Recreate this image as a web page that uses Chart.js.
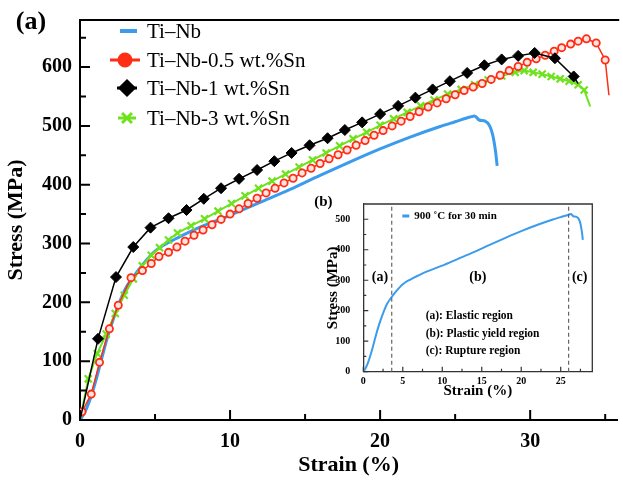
<!DOCTYPE html>
<html><head><meta charset="utf-8">
<script src="https://cdn.jsdelivr.net/npm/chart.js@4.4.1/dist/chart.umd.min.js"></script>
<style>
html,body{margin:0;padding:0;background:#fff;}
#wrap{position:relative;width:623px;height:480px;overflow:hidden;background:#fff;}
#main{position:absolute;left:0;top:0;}
#inset{position:absolute;left:300px;top:185px;}
</style></head><body>
<div id="wrap"><canvas id="main" width="623" height="480"></canvas><canvas id="inset" width="300" height="215"></canvas></div>
<script>
// ---------------- data ----------------
const seriesNames = ['Ti\u2013Nb', 'Ti\u2013Nb-0.5 wt.%Sn', 'Ti\u2013Nb-1 wt.%Sn', 'Ti\u2013Nb-3 wt.%Sn'];

const tiNbStrain = [0,0.3,0.6,1.0,1.4,1.8,2.2,2.6,3.0,3.6,4.2,5.0,6.0,7.0,8.0,9.0,10,12,14,16,18,20,22,24,25,26.0,26.3,26.6,27.0,27.3,27.5,27.7,27.8];
const tiNbStress = [0,12,30,62,100,138,170,198,222,245,265,287,303,316,328,338,348,370,392,416,439,461,481,499,507,515,517,510,508,500,485,455,432];

const sn05Strain = [0.13,0.75,1.3,1.96,2.55,3.4,4.16,4.75,5.26,5.9,6.46,7.0,7.6,8.2,8.8,9.4,10.0,10.6,11.2,11.8,12.4,13.0,13.6,14.2,14.8,15.4,16.0,16.6,17.2,17.8,18.4,19.0,19.6,20.2,20.8,21.4,22.0,22.6,23.2,23.8,24.4,25.0,25.6,26.2,26.8,27.4,28.0,28.6,29.2,29.8,30.4,31.0,31.6,32.1,32.7,33.2,33.75,34.4,35.0,35.25];
const sn05Stress = [14,44,98,155,195,242,254,266,278,285,294,304,314,323,332,341,350,359,368,377,386,394,403,411,420,428,436,444,451,459,467,475,484,492,500,508,516,524,532,539,546,553,560,566,572,579,586,594,601,608,614,620,627,633,639,644,648,641,612,552];

const sn1Strain = [0,1.2,2.4,3.55,4.7,5.9,7.1,8.25,9.4,10.6,11.8,12.95,14.1,15.3,16.5,17.65,18.8,20.0,21.2,22.35,23.5,24.65,25.8,26.95,28.1,29.2,30.3,31.65,32.9,33.2];
const sn1Stress = [0,138,243,294,327,343,357,376,394,410,425,440,454,467,479,493,506,520,534,548,562,576,590,603,613,619,624,615,584,572];

const sn3Strain = [0,0.55,1.15,1.75,2.35,2.95,3.55,4.15,4.75,5.3,5.9,6.5,7.4,8.3,9.2,10.1,11.0,11.9,12.8,13.7,14.6,15.5,16.4,17.3,18.2,19.1,20.0,20.9,21.8,22.7,23.6,24.5,25.4,26.3,27.2,28.1,29.0,29.6,30.2,30.8,31.4,32.0,32.6,33.2,33.6,34.0];
const sn3Stress = [0,70,113,146,181,212,240,262,280,293,306,318,330,342,355,368,381,394,406,418,430,442,454,466,478,489,501,512,523,534,544,554,562,570,578,585,591,594,591,588,584,580,576,570,561,533];

const xMajor = [0,10,20,30], xMinor = [5,15,25,35];
const yMajor = [0,100,200,300,400,500,600], yMinor = [50,150,250,350,450,550,650];

const insetXMajor = [0,5,10,15,20,25], insetXMinor = [2.5,7.5,12.5,17.5,22.5,27.5];
const insetYMajor = [0,100,200,300,400,500], insetYMinor = [50,150,250,350,450];
const insetBounds = [3.6, 26.0];
const insetZoneLabels = ['(a)','(b)','(c)'];
const insetNotes = ['(a): Elastic region','(b): Plastic yield region','(c): Rupture region'];
const insetLegend = '900 \u02DAC for 30 min';

// ---------------- styles ----------------
const BLUE = '#3b9bec', RED = '#ff2c16', BLACK = '#000000', GREEN = '#6fe21e';
const SERIF = "'Liberation Serif','Times New Roman',serif";
Chart.defaults.font.family = SERIF;
Chart.defaults.color = '#000';

const pts = (xs, ys) => xs.map((v, i) => ({x: v, y: ys[i]}));
const endless = (n, r, skipFirst) => (c) => (c.dataIndex === n - 1 || (skipFirst && c.dataIndex === 0)) ? 0 : r;

function innerTicks(ctx, scale, vals, len, horizontal, lw) {
  const a = scale.chart.chartArea;
  ctx.lineWidth = lw;
  ctx.beginPath();
  vals.forEach(v => {
    const p = scale.getPixelForValue(v);
    if (horizontal) { ctx.moveTo(p, a.bottom); ctx.lineTo(p, a.bottom - len); }
    else { ctx.moveTo(a.left, p); ctx.lineTo(a.left + len, p); }
  });
  ctx.stroke();
}

const mainDecor = {
  id: 'mainDecor',
  afterDraw(chart) {
    const {ctx, chartArea: a, scales: {x, y}} = chart;
    const H = Chart.helpers;
    ctx.save();
    ctx.strokeStyle = '#000';
    ctx.lineWidth = 2;
    ctx.beginPath(); ctx.moveTo(a.left - 1, a.top); ctx.lineTo(a.right + 2, a.top); ctx.stroke();
    innerTicks(ctx, x, xMajor, 10, true, 2);
    innerTicks(ctx, x, xMinor, 6, true, 2);
    innerTicks(ctx, y, yMajor, 10, false, 2);
    innerTicks(ctx, y, yMinor, 6, false, 2);
    // panel label
    ctx.fillStyle = '#000';
    ctx.font = "bold 26px " + SERIF;
    ctx.textAlign = 'center'; ctx.textBaseline = 'middle';
    ctx.fillText('(a)', 31, 22);
    // legend
    const rows = [31, 60, 88, 118];
    const tx = 147;
    ctx.strokeStyle = BLUE; ctx.lineWidth = 4;
    ctx.beginPath(); ctx.moveTo(120, rows[0]); ctx.lineTo(137, rows[0]); ctx.stroke();
    ctx.strokeStyle = RED; ctx.lineWidth = 3;
    ctx.beginPath(); ctx.moveTo(110, rows[1]); ctx.lineTo(140, rows[1]); ctx.stroke();
    ctx.fillStyle = RED; ctx.strokeStyle = RED;
    H.drawPoint(ctx, {pointStyle: 'circle', radius: 6, borderWidth: 1, rotation: 0}, 125, rows[1]);
    ctx.strokeStyle = BLACK; ctx.lineWidth = 3;
    ctx.beginPath(); ctx.moveTo(117, rows[2]); ctx.lineTo(137, rows[2]); ctx.stroke();
    ctx.fillStyle = BLACK;
    H.drawPoint(ctx, {pointStyle: 'rectRot', radius: 7, borderWidth: 1, rotation: 0}, 127, rows[2]);
    ctx.strokeStyle = GREEN; ctx.lineWidth = 3;
    ctx.beginPath(); ctx.moveTo(118, rows[3]); ctx.lineTo(136, rows[3]); ctx.stroke();
    H.drawPoint(ctx, {pointStyle: 'crossRot', radius: 7, borderWidth: 3, rotation: 0}, 127, rows[3]);
    ctx.fillStyle = '#000';
    ctx.font = "21px " + SERIF;
    ctx.textAlign = 'left'; ctx.textBaseline = 'middle';
    seriesNames.forEach((n, i) => ctx.fillText(n, tx, rows[i] + 1));
    ctx.restore();
  }
};

new Chart(document.getElementById('main'), {
  type: 'line',
  data: {
    datasets: [
      {label: seriesNames[0], data: pts(tiNbStrain, tiNbStress), borderColor: BLUE, borderWidth: 3, pointRadius: 0, cubicInterpolationMode: 'monotone', order: 4},
      {label: seriesNames[1], data: pts(sn05Strain, sn05Stress), borderColor: RED, borderWidth: 1.5, pointStyle: 'circle', pointRadius: endless(sn05Strain.length, 3.6, false), pointBorderWidth: 1.8, pointBorderColor: RED, pointBackgroundColor: '#ffe4e0', order: 2},
      {label: seriesNames[2], data: pts(sn1Strain, sn1Stress), borderColor: BLACK, borderWidth: 1.5, pointStyle: 'rectRot', pointRadius: endless(sn1Strain.length, 5.5, true), pointBorderWidth: 1, pointBorderColor: BLACK, pointBackgroundColor: BLACK, order: 1},
      {label: seriesNames[3], data: pts(sn3Strain, sn3Stress), borderColor: GREEN, borderWidth: 2, pointStyle: 'crossRot', pointRadius: endless(sn3Strain.length, 5, true), pointBorderWidth: 2.2, pointBorderColor: GREEN, pointBackgroundColor: GREEN, order: 3}
    ]
  },
  options: {
    responsive: false, animation: false,
    layout: {padding: {top: 10, right: 0, left: 0, bottom: 0}},
    plugins: {legend: {display: false}, tooltip: {enabled: false}},
    scales: {
      x: {type: 'linear', min: 0, max: 35.8,
        afterBuildTicks: s => { s.ticks = xMajor.map(v => ({value: v})); },
        afterFit: s => { s.height = 60; },
        grid: {display: false, drawTicks: false}, border: {display: true, color: '#000', width: 2},
        ticks: {autoSkip: false, maxRotation: 0, padding: 10, color: '#000', font: {size: 20, weight: 'bold'}},
        title: {display: true, text: 'Strain (%)', color: '#000', font: {size: 22, weight: 'bold'}, padding: {top: 0, bottom: 1}}
      },
      y: {type: 'linear', min: 0, max: 680,
        afterBuildTicks: s => { s.ticks = yMajor.map(v => ({value: v})); },
        afterFit: s => { s.width = 80; },
        grid: {display: false, drawTicks: false}, border: {display: true, color: '#000', width: 2},
        ticks: {autoSkip: false, padding: 8, color: '#000', font: {size: 20, weight: 'bold'}},
        title: {display: true, text: 'Stress (MPa)', color: '#000', font: {size: 22, weight: 'bold'}, padding: {top: 3, bottom: 0}}
      }
    }
  },
  plugins: [mainDecor]
});

// ---------------- inset ----------------
const insetDecor = {
  id: 'insetDecor',
  afterDraw(chart) {
    const {ctx, chartArea: a, scales: {x, y}} = chart;
    ctx.save();
    ctx.strokeStyle = '#333';
    ctx.lineWidth = 1.3;
    ctx.beginPath();
    ctx.moveTo(a.left, a.top); ctx.lineTo(a.right, a.top); ctx.lineTo(a.right, a.bottom);
    ctx.stroke();
    innerTicks(ctx, x, insetXMajor, 5, true, 1.2);
    innerTicks(ctx, x, insetXMinor, 3, true, 1.2);
    innerTicks(ctx, y, insetYMajor, 5, false, 1.2);
    innerTicks(ctx, y, insetYMinor, 3, false, 1.2);
    ctx.strokeStyle = '#666'; ctx.lineWidth = 1.2; ctx.setLineDash([4, 3]);
    insetBounds.forEach(v => {
      const p = x.getPixelForValue(v);
      ctx.beginPath(); ctx.moveTo(p, a.bottom); ctx.lineTo(p, a.top); ctx.stroke();
    });
    ctx.setLineDash([]);
    ctx.fillStyle = '#000';
    ctx.font = "bold 14px " + SERIF;
    ctx.textAlign = 'center'; ctx.textBaseline = 'middle';
    [2.1, 14.5, 27.4].forEach((v, i) => ctx.fillText(insetZoneLabels[i], x.getPixelForValue(v), y.getPixelForValue(309)));
    ctx.font = "bold 11.5px " + SERIF;
    ctx.textAlign = 'left';
    [181, 123, 69].forEach((v, i) => ctx.fillText(insetNotes[i], x.getPixelForValue(7.9), y.getPixelForValue(v)));
    ctx.font = "bold 15px " + SERIF;
    ctx.textAlign = 'center';
    ctx.fillText('(b)', a.left - 40, a.top - 2);
    ctx.strokeStyle = BLUE; ctx.lineWidth = 3;
    ctx.beginPath(); ctx.moveTo(a.left + 39, a.top + 12); ctx.lineTo(a.left + 46, a.top + 12); ctx.stroke();
    ctx.font = "bold 11px " + SERIF;
    ctx.textAlign = 'left';
    ctx.fillText(insetLegend, a.left + 51, a.top + 12);
    ctx.restore();
  }
};

new Chart(document.getElementById('inset'), {
  type: 'line',
  data: {datasets: [{label: insetLegend, data: pts(tiNbStrain, tiNbStress), borderColor: BLUE, borderWidth: 2, pointRadius: 0, cubicInterpolationMode: 'monotone'}]},
  options: {
    responsive: false, animation: false,
    layout: {padding: {top: 15, right: 7.7, left: 0, bottom: 0}},
    plugins: {legend: {display: false}, tooltip: {enabled: false}},
    scales: {
      x: {type: 'linear', min: 0, max: 29,
        afterBuildTicks: s => { s.ticks = insetXMajor.map(v => ({value: v})); },
        afterFit: s => { s.height = 28.3; },
        grid: {display: false, drawTicks: false}, border: {display: true, color: '#333', width: 1.3},
        ticks: {autoSkip: false, maxRotation: 0, padding: 4, color: '#000', font: {size: 10, weight: 'bold'}},
        title: {display: true, text: 'Strain (%)', color: '#000', font: {size: 15, weight: 'bold'}, padding: {top: 0, bottom: 0}}
      },
      y: {type: 'linear', min: 0, max: 550,
        afterBuildTicks: s => { s.ticks = insetYMajor.map(v => ({value: v})); },
        afterFit: s => { s.width = 63.3; },
        grid: {display: false, drawTicks: false}, border: {display: true, color: '#333', width: 1.3},
        ticks: {autoSkip: false, padding: 13, color: '#000', font: {size: 10, weight: 'bold'}},
        title: {display: true, text: 'Stress (MPa)', color: '#000', font: {size: 15, weight: 'bold'}, padding: {top: 24, bottom: 0}}
      }
    }
  },
  plugins: [insetDecor]
});
</script>
</body></html>
